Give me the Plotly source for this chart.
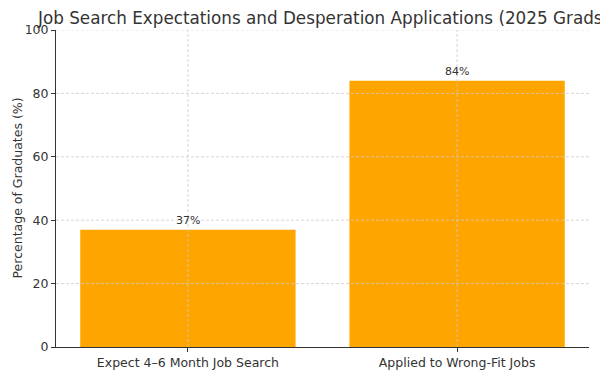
import plotly.graph_objects as go

categories = ["Expect 4–6 Month Job Search", "Applied to Wrong-Fit Jobs"]
values = [37, 84]
value_labels = ["37%", "84%"]
y_ticks = [0, 20, 40, 60, 80, 100]
title_text = "Job Search Expectations and Desperation Applications (2025 Grads)"
y_title = "Percentage of Graduates (%)"

FONT = "DejaVu Sans"
x_idx = list(range(len(categories)))

fig = go.Figure()
fig.add_trace(go.Bar(
    x=x_idx, y=values, width=0.8,
    marker=dict(color="#FFA500", line=dict(width=0)),
    hoverinfo="skip",
))

for xi, v, lab in zip(x_idx, values, value_labels):
    fig.add_annotation(x=xi, y=v, text=lab, showarrow=False,
                       xref="x", yref="y", yanchor="bottom", yshift=1,
                       font=dict(family=FONT, size=11, color="#333333"))

# grid lines drawn above bars (as in reference)
for t in y_ticks[1:-1]:
    fig.add_shape(type="line", xref="paper", yref="y", x0=0, x1=1, y0=t, y1=t,
                  line=dict(color="#cccccc", width=0.8, dash="3px,2px"), layer="above")
fig.add_shape(type="line", xref="paper", yref="y", x0=0, x1=1, y0=100, y1=100,
              line=dict(color="#dddddd", width=0.8, dash="3px,2px"), layer="above")
for xi in x_idx:
    fig.add_shape(type="line", xref="x", yref="paper", x0=xi, x1=xi, y0=0, y1=1,
                  line=dict(color="#cccccc", width=0.8, dash="3px,2px"), layer="above")

fig.add_annotation(text=title_text, xref="paper", yref="paper", x=0.5, y=1.0,
                   xanchor="center", yanchor="bottom", yshift=0, showarrow=False,
                   font=dict(family=FONT, size=16.8, color="#333333"))

fig.add_annotation(text=y_title, xref="paper", yref="paper", x=0, y=0.5,
                   xanchor="center", yanchor="middle", xshift=-39, textangle=-90,
                   showarrow=False,
                   font=dict(family=FONT, size=12.5, color="#333333"))

fig.update_layout(
    width=600, height=375,
    margin=dict(l=56, r=11, t=30, b=28, autoexpand=False),
    paper_bgcolor="white", plot_bgcolor="white",
    font=dict(family=FONT, color="#333333"),
    showlegend=False,
    bargap=0.2,
)
fig.update_xaxes(
    range=[-0.49, 1.49], tickmode="array", tickvals=x_idx, ticktext=categories,
    showgrid=False, zeroline=False, showline=True, linecolor="#333333", linewidth=1,
    ticks="outside", ticklen=4, tickcolor="#333333", automargin=False,
    tickfont=dict(family=FONT, size=12.5, color="#333333"),
)
fig.update_yaxes(
    range=[0, 100], tickmode="array", tickvals=y_ticks,
    showgrid=False, zeroline=False, showline=True, linecolor="#333333", linewidth=1,
    ticks="outside", ticklen=4, tickcolor="#333333", automargin=False,
    tickfont=dict(family=FONT, size=12.5, color="#333333"),
)

fig.write_html(
    "out.html",
    config={"displayModeBar": False},
    post_script="document.body.style.margin='0';document.body.style.overflow='hidden';",
)
